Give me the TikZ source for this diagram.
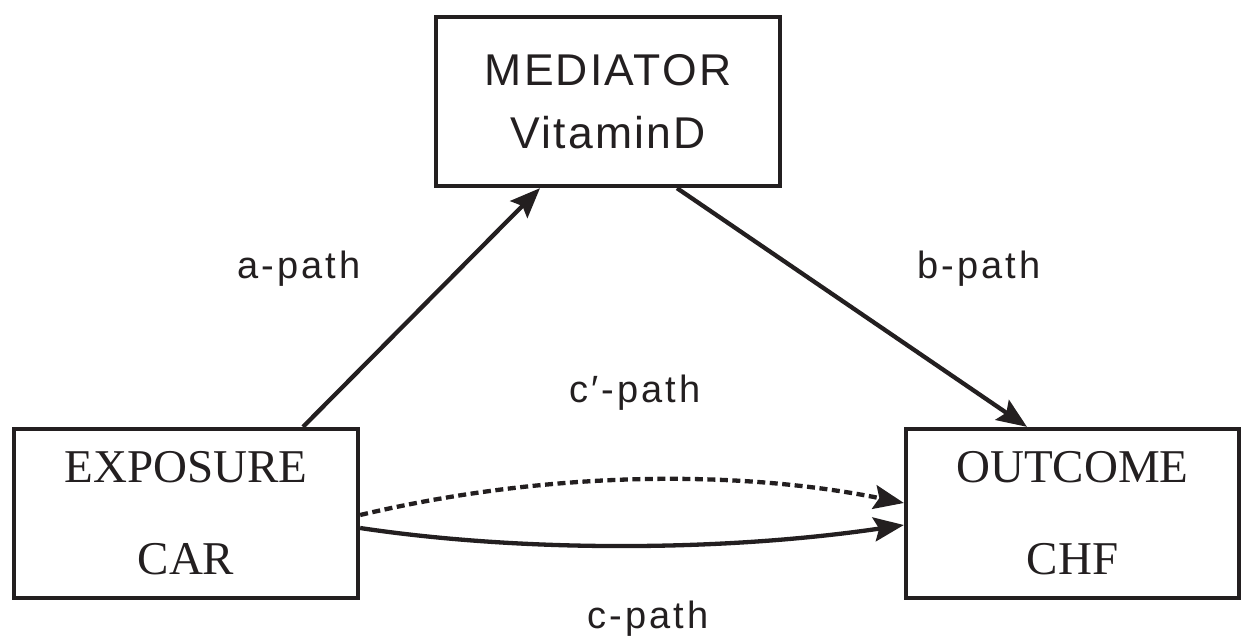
\documentclass[tikz,border=0pt]{standalone}
\usepackage{fontspec}
\setmainfont{Liberation Serif}
\newfontfamily\lblfont[LetterSpace=8]{Liberation Sans}
\newfontfamily\medfont[LetterSpace=5]{Liberation Sans}
\usetikzlibrary{arrows.meta}
\definecolor{ink}{RGB}{35,31,32}
\tikzset{
  box/.style={draw=ink, line width=4.3pt, rectangle, inner sep=0pt, align=center, text=ink},
  serifbox/.style={box, font=\fontsize{47}{92}\selectfont},
  sansbox/.style={box, font=\medfont\fontsize{44.5}{63}\selectfont},
  lbl/.style={anchor=base, text=ink, inner sep=0pt, font=\lblfont\fontsize{38}{42}\selectfont},
  conn/.style={draw=ink, line width=4.3pt, -{Stealth[length=30pt, width=24pt, inset=5pt]}},
}
\begin{document}
\begin{tikzpicture}[x=1pt, y=-1pt]
\useasboundingbox (0,0) rectangle (1245,635);
\node[sansbox, minimum width=344pt, minimum height=169pt] (med) at (608,101.5) {MEDIATOR\\VitaminD};
\node[serifbox, minimum width=344pt, minimum height=169pt] (exp) at (186,513.5) {EXPOSURE\\CAR};
\node[serifbox, minimum width=333pt, minimum height=169pt] (out) at (1072.5,513.5) {OUTCOME\\CHF};

\draw[conn] ([xshift=117pt]exp.north) -- ([xshift=-68pt]med.south);
\draw[conn] ([xshift=69pt]med.south) -- ([xshift=-45.5pt]out.north);
\draw[conn, dash pattern=on 8pt off 4.5pt] ([yshift=-1.5pt]exp.east) .. controls (550,470) and (740,470) .. ([yshift=10.5pt]out.west);
\draw[conn] ([yshift=-14.5pt]exp.east) .. controls (520,552) and (720,552) .. ([yshift=-11.5pt]out.west);

\node[lbl] (la) at (299,278) {a-path};
\node[lbl] (lb) at (979,278) {b-path};
\node[lbl] (lcp) at (635,402) {c′-path};
\node[lbl] (lc) at (648,628) {c-path};
\end{tikzpicture}
\end{document}
